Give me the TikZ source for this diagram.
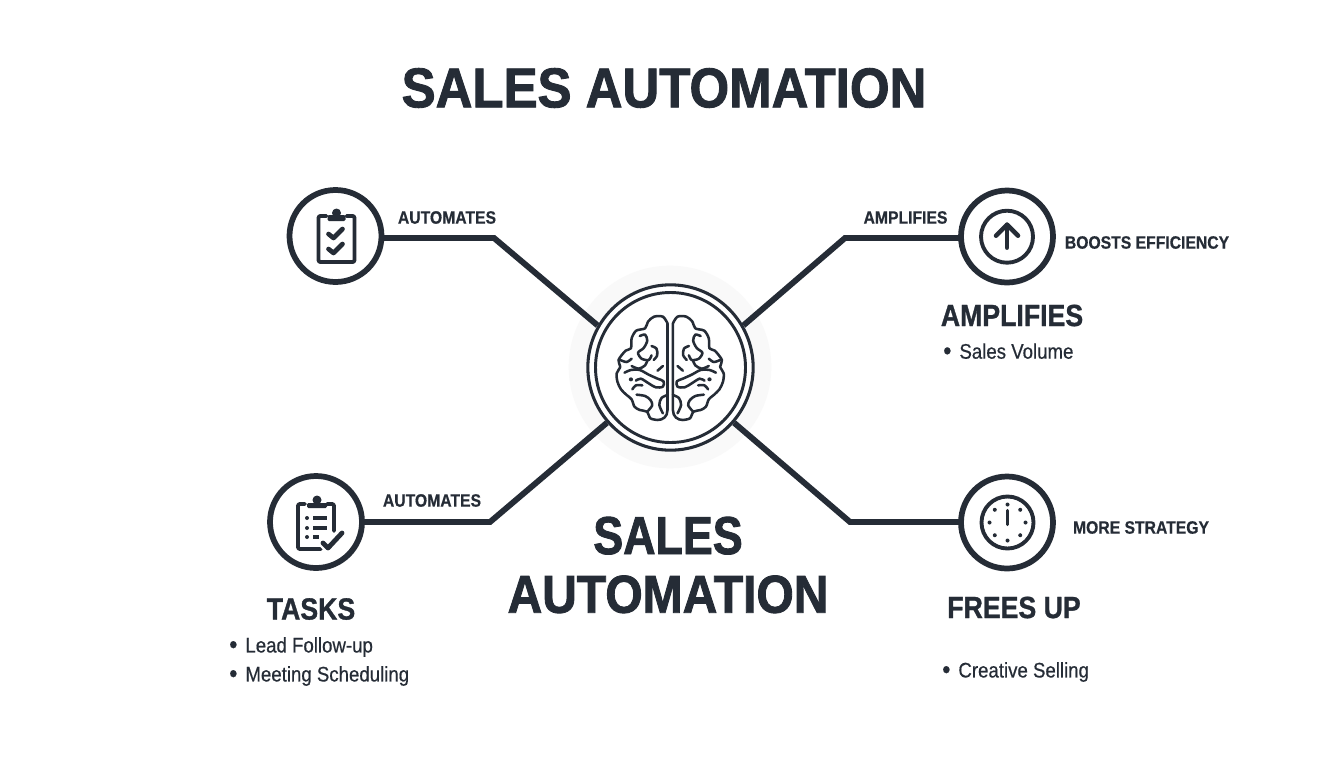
\documentclass[tikz,border=0pt]{standalone}
\usepackage{fontspec}
\setmainfont{Liberation Sans}[BoldFont={Liberation Sans Bold},FakeStretch=0.87]
\newfontfamily\itemf{Liberation Sans}[FakeStretch=0.885,FakeBold=0.5]
\newfontfamily\labf{Liberation Sans Bold}[FakeStretch=0.88,FakeBold=0.6]
\newfontfamily\headf{Liberation Sans Bold}[FakeStretch=0.87,FakeBold=1.0]
\newfontfamily\bigf{Liberation Sans Bold}[FakeStretch=0.91,FakeBold=1.6]
\newfontfamily\midf{Liberation Sans Bold}[FakeStretch=0.90,FakeBold=1.6]
\newfontfamily\midg{Liberation Sans Bold}[FakeStretch=0.84,FakeBold=1.6]
\definecolor{ink}{HTML}{252C36}
\newcommand{\blt}{\raisebox{-0.7pt}{\scalebox{1.25}{•}}\hspace{6pt}}
\tikzset{
  x=0.75pt,y=-0.75pt,
  ring/.style={circle,draw=ink,line width=4.3pt,fill=white,minimum size=69pt,inner sep=0pt,outer sep=0pt},
  link/.style={draw=ink,line width=4.4pt,line join=miter},
  lab/.style={text=ink,font=\labf\fontsize{13.4}{13.4}\selectfont,inner sep=0pt,anchor=center},
  head/.style={text=ink,font=\headf\fontsize{23}{23}\selectfont,inner sep=0pt,anchor=center},
  item/.style={text=ink,font=\itemf\fontsize{15.8}{15.8}\selectfont,inner sep=0pt,anchor=west},
  big/.style={text=ink,font=\bigf\fontsize{42}{42}\selectfont,inner sep=0pt,anchor=center},
  ico/.style={draw=ink,line width=2.9pt,line cap=round,line join=round},
  brain/.style={draw=ink,line width=1.9pt,line cap=round,line join=round},
}
% one brain half, drawn at three times its size
\newcommand{\hemi}{%
  \draw[brain] (163,40) -- (163,300) .. controls (163,320) and (150,330) .. (135,330)
    plot[smooth] coordinates {(135,330)(115,325)(105,305)(85,300)(70,290)(62,268)(48,255)(32,238)(22,215)(20,190)(30,170)(25,150)(45,122)(60,115)(62,85)(75,62)(100,55)(108,35)(125,20)(150,20)(163,40)};
  \draw[brain] plot[smooth] coordinates {(85,78)(100,74)(106,92)(96,114)(80,128)(90,146)(110,150)(118,136)};
  \draw[brain] plot[smooth] coordinates {(118,108)(132,116)(134,136)(124,150)};
  \draw[brain] plot[smooth] coordinates {(30,150)(48,156)(62,146)};
  \draw[brain] plot[smooth] coordinates {(62,168)(82,176)(100,166)(106,152)};
  \draw[brain] plot[smooth] coordinates {(42,188)(60,180)(85,180)(110,194)(135,206)(152,214)(150,230)(130,232)(110,220)(88,206)(74,212)};
  \draw[brain] plot[smooth] coordinates {(64,238)(74,226)(92,226)};
  \draw[brain] plot[smooth] coordinates {(76,254)(100,258)(115,270)(120,286)(106,305)};
  \draw[brain] plot[smooth] coordinates {(163,255)(146,264)(140,285)(150,310)};
  \draw[brain] (135,182) -- (150,168);
  \fill[ink] (60,208) circle (6);
}
\begin{document}
\begin{tikzpicture}
\useasboundingbox (0,0) rectangle (1344,768);
\fill[white] (0,0) rectangle (1344,768);
% halo
\node[circle,fill=black!2.5,minimum size=152pt,inner sep=0pt] (halo) at (670,367) {};
% connectors' bends
\coordinate (b1) at (494,238);
\coordinate (b2) at (490,522);
\coordinate (b3) at (845,238);
\coordinate (b4) at (850,522);
% hub
\node[circle,draw=ink,line width=2.3pt,fill=white,minimum size=124pt,inner sep=0pt] (hub) at (670.5,367.5) {};
\node[circle,draw=ink,line width=2.2pt,minimum size=112.5pt,inner sep=0pt] (hubin) at (670.5,367.5) {};
% outer nodes
\node[ring] (n1) at (335.5,236) {};
\node[ring] (n2) at (316,522) {};
\node[ring] (n3) at (1007,236.5) {};
\node[ring] (n4) at (1007,522.5) {};
% connectors
\draw[link] (n1.east |- b1) -- (b1) -- (hub.150);
\draw[link] (n2.east |- b2) -- (b2) -- (hub.221);
\draw[link] (n3.west |- b3) -- (b3) -- (hub.30);
\draw[link] (n4.west |- b4) -- (b4) -- (hub.319);
% brain
\begin{scope}[shift={(609.6,310)},x=0.2664pt,y=-0.25pt]
 \hemi
\end{scope}
\begin{scope}[shift={(730.8,310)},x=-0.2664pt,y=-0.25pt]
 \hemi
\end{scope}
% clipboard 1
\begin{scope}[shift={(336.5,238)}]
 \draw[ico,rounded corners=1.5] (-10,-22) -- (-18,-22) -- (-18,24) -- (18,24) -- (18,-22) -- (10,-22);
 \fill[ink,rounded corners=1] (-9,-23) rectangle (9,-17);
 \fill[ink] (0,-25) circle (4.5);
 \draw[ico,line width=3.5pt] (-8,-4) -- (-3,0) -- (6,-9);
 \draw[ico,line width=3.5pt] (-8,11) -- (-3,15) -- (6,6);
\end{scope}
% clipboard 2
\begin{scope}[shift={(316,522)}]
 \draw[ico,rounded corners=1.5] (-11,-18) -- (-18,-18) -- (-18,27) -- (5,27);
 \draw[ico,rounded corners=1.5] (11,-18) -- (18,-18) -- (18,9);
 \fill[ink,rounded corners=1] (-9,-19) rectangle (11,-14);
 \fill[ink] (1,-22) circle (4.5);
 \fill[ink] (-9,-4) circle (2); \fill[ink] (-9,6) circle (2); \fill[ink] (-9,15) circle (2);
 \draw[ico,line width=2.6pt,line cap=butt] (-3,-4) -- (11,-4);
 \draw[ico,line width=2.6pt,line cap=butt] (-3,6) -- (11,6);
 \draw[ico,line width=2.6pt,line cap=butt] (-3,15) -- (3,15);
 \draw[white,line width=7pt] (7,21) -- (12,26) -- (26,11);
 \draw[ico,line width=3.6pt] (7,21) -- (12,26) -- (26,11);
\end{scope}
% arrow
\begin{scope}[shift={(1007,236.7)}]
 \draw[ico,line cap=butt] (0,0) circle (26);
 \draw[ico,line width=3.4pt] (0,11) -- (0,-12);
 \draw[ico,line width=3.4pt] (-11,-1) -- (0,-12) -- (11,-1);
\end{scope}
% clock
\begin{scope}[shift={(1007.5,522.5)}]
 \draw[ico,line cap=butt] (0,0) circle (26);
 \draw[ico,line width=2.4pt] (0,-12) -- (0,2);
 \foreach \a in {0,45,...,315} \fill[ink] (\a:18) circle (2);
\end{scope}
% text
\node[big] (title) at (664,88) {SALES AUTOMATION};
\node[big,align=center,font=\midf\fontsize{40}{44}\selectfont] (centre) at (668,565) {{\midg SALES}\\AUTOMATION};
\node[lab] (l1) at (447,217.5) {AUTOMATES};
\node[lab] (l2) at (432,500.5) {AUTOMATES};
\node[lab] (l3) at (905.5,217.5) {AMPLIFIES};
\node[lab] (l4) at (1147,242.5) {BOOSTS EFFICIENCY};
\node[lab] (l5) at (1141,527.5) {MORE STRATEGY};
\node[head] (h1) at (1012,315.5) {AMPLIFIES};
\node[head] (h2) at (311,609) {TASKS};
\node[head] (h3) at (1014,607.5) {FREES UP};
\node[item] (i1) at (943,351.5) {\blt Sales Volume};
\node[item] (i2) at (229,647) {\blt Lead Follow-up};
\node[item] (i3) at (229,676) {\blt Meeting Scheduling};
\node[item] (i4) at (942,672) {\blt Creative Selling};
\end{tikzpicture}
\end{document}
